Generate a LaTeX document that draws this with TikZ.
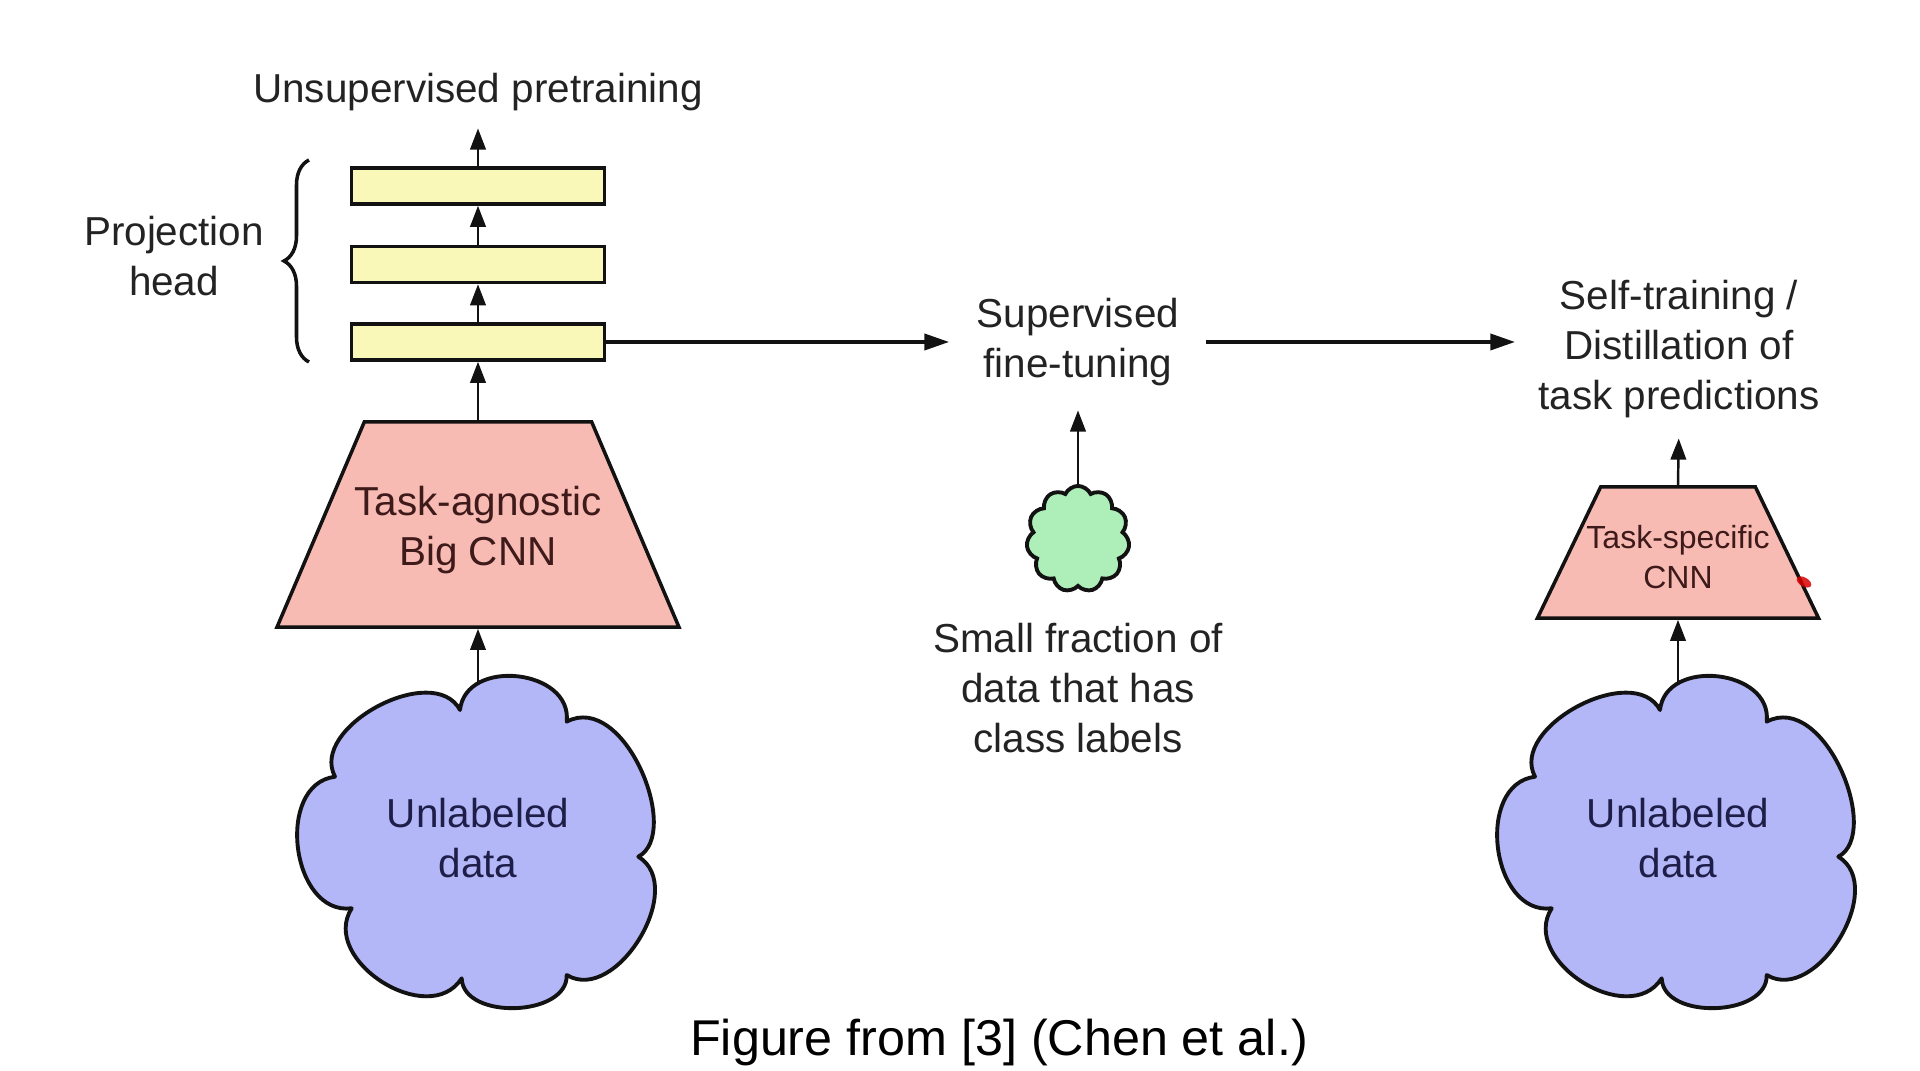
\documentclass[tikz,border=0pt]{standalone}
\usepackage{fontspec}
\setmainfont{Liberation Sans}
\usetikzlibrary{shapes.geometric,shapes.symbols,arrows.meta,decorations.pathreplacing}
\definecolor{layerfill}{RGB}{250,248,184}
\definecolor{trapfill}{RGB}{248,187,180}
\definecolor{cloudfill}{RGB}{179,183,248}
\definecolor{greenfill}{RGB}{174,238,184}
\definecolor{txtcol}{RGB}{35,35,35}
\definecolor{navytxt}{RGB}{30,30,72}
\definecolor{browntxt}{RGB}{62,26,26}
\definecolor{linecol}{RGB}{18,18,18}
\begin{document}
\begin{tikzpicture}[x=0.01cm,y=-0.01cm,
  txt/.style={align=center, inner sep=0pt, text=txtcol, font=\fontsize{11.5}{14.2}\selectfont},
  layer/.style={draw=linecol, line width=1pt, fill=layerfill, minimum width=2.53cm, minimum height=0.36cm, inner sep=0pt},
  bigtrap/.style={trapezium, trapezium left angle=69, trapezium right angle=69, trapezium stretches=true,
    minimum width=4.02cm, minimum height=2.05cm, draw=linecol, line width=1pt, fill=trapfill, inner sep=3pt},
  smalltrap/.style={trapezium, trapezium left angle=67.8, trapezium right angle=67.8, trapezium stretches=true,
    minimum width=2.81cm, minimum height=1.31cm, draw=linecol, line width=1pt, fill=trapfill, inner sep=3pt},
  traptxt/.style={align=center, inner sep=0pt, text=browntxt, font=\fontsize{11.5}{14.2}\selectfont},
  smalltraptxt/.style={align=center, inner sep=0pt, text=browntxt, font=\fontsize{9.1}{11.3}\selectfont},
  cloudtxt/.style={align=center, inner sep=0pt, text=navytxt, font=\fontsize{11.5}{14.2}\selectfont},
  cloudline/.style={draw=linecol, line width=1.1pt, fill=cloudfill, line join=round},
  gcloud/.style={cloud, cloud puffs=11, cloud puff arc=130, cloud ignores aspect, minimum width=1.03cm, minimum height=1.06cm,
    draw=linecol, line width=1.1pt, fill=greenfill},
  arr/.style={-{Triangle[length=6pt,width=4.4pt]}, line width=0.7pt, draw=linecol},
  harr/.style={-{Triangle[length=7pt,width=4.6pt]}, line width=0.9pt, draw=linecol},
  bracestyle/.style={decorate, decoration={brace, amplitude=0.25cm}, line width=1pt, draw=linecol},
  bigcloud/.pic={
    \path[cloudline] (-143,-66.3) .. controls (-169.4,-115.7) and (-44.4,-182.4) .. (-18,-133)
      .. controls (-12.2,-185.7) and (94.5,-174) .. (88.7,-121.3)
      .. controls (146.1,-151.8) and (204.5,-9.7) .. (160.3,13.7)
      .. controls (209.9,43.7) and (138.3,162) .. (88.7,132)
      .. controls (90,174) and (-15,177.3) .. (-16.3,135.3)
      .. controls (-49.1,186.8) and (-159.1,116.8) .. (-126.3,65.3)
      .. controls (-186.8,73) and (-203.5,-58.6) .. (-143,-66.3) -- cycle;
    \coordinate (-top) at (0,-160);
  }
]
\useasboundingbox (0,0) rectangle (1920,1071);

% left column
\node[txt] (upre) at (478,92) {Unsupervised pretraining};
\node[layer] (r1) at (478,186) {};
\node[layer] (r2) at (478,264.5) {};
\node[layer] (r3) at (478,342) {};
\node[txt] (proj) at (174,256.5) {Projection\\head};
\coordinate (brb) at (309,362);
\coordinate (brt) at (309,160);
\draw[bracestyle] (brb) -- (brt);
\node[bigtrap] (bcnn) at (478,524.5) {};
\node[traptxt] (bcnnlbl) at (478,530) {Task-agnostic\\Big CNN};
\pic (cl) at (478,843) {bigcloud};
\node[cloudtxt] (cllbl) at (478,838) {Unlabeled\\data};

% middle column
\node[txt] (sft) at (1078,342) {Supervised\\fine-tuning};
\node[gcloud] (gc) at (1078,539) {};
\node[txt] (frac) at (1078,688) {Small fraction of\\data that has\\class labels};

% right column
\node[txt] (st) at (1679,349) {Self-training /\\Distillation of\\task predictions};
\node[smalltrap] (ts) at (1678,552.5) {};
\node[smalltraptxt] (tslbl) at (1678,557) {Task-specific\\CNN};
\pic (cr) at (1678,843) {bigcloud};
\node[cloudtxt] (crlbl) at (1678,838) {Unlabeled\\data};

% caption
\node[inner sep=0pt, text=black, font=\fontsize{14.3}{17}\selectfont] (cap) at (999,1043) {Figure from [3] (Chen et al.)};

% laser pointer mark
\fill[red!85!black, opacity=0.85, rotate around={-30:(1804,582)}] (1804,582) ellipse [x radius=0.08cm, y radius=0.045cm];

% connectors
\draw[arr, shorten >=4.8pt] (r1.north) -- (upre.south);
\draw[arr] (r2.north) -- (r1.south);
\draw[arr] (r3.north) -- (r2.south);
\draw[arr] (bcnn.north) -- (r3.south);
\draw[arr] (cl-top) -- (bcnn.south);
\draw[harr, shorten >=7.7pt] (r3.east) -- (r3.east -| sft.west);
\draw[harr, shorten <=7.4pt, shorten >=6.5pt] (sft.east) -- (sft.east -| st.west);
\draw[arr, shorten >=6.8pt] (gc.north) -- (sft.south);
\draw[arr, shorten >=5.7pt] (ts.north) -- (st.south);
\draw[arr] (cr-top) -- (ts.south);
\end{tikzpicture}
\end{document}
